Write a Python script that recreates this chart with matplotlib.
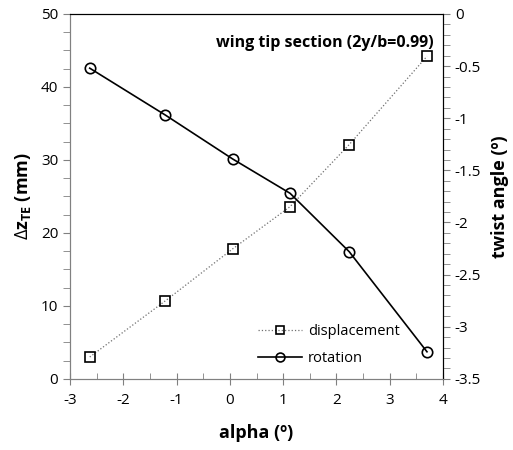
import numpy as np
import matplotlib
matplotlib.use('Agg')
import matplotlib.pyplot as plt
from matplotlib.ticker import MultipleLocator, FuncFormatter

plt.rcParams['font.family'] = ['Open Sans', 'DejaVu Sans']
plt.rcParams['axes.unicode_minus'] = False
plt.rcParams['mathtext.fontset'] = 'custom'
plt.rcParams['mathtext.rm'] = 'Open Sans'
plt.rcParams['mathtext.bf'] = 'Open Sans:bold'

# Data
alpha = [-2.63, -1.21, 0.05, 1.13, 2.24, 3.70]
displacement = [3.0, 10.7, 17.8, 23.6, 32.1, 44.2]
rotation = [-0.52, -0.97, -1.39, -1.72, -2.28, -3.24]

fig = plt.figure(figsize=(5.13, 4.5), dpi=100)
ax = fig.add_axes([0.1365, 0.158, 0.727, 0.811])
ax2 = ax.twinx()

l1, = ax.plot(alpha, displacement, linestyle=':', color='#707070', linewidth=0.9,
              marker='s', markersize=7.5, markerfacecolor='none',
              markeredgecolor='black', markeredgewidth=1.2, label='displacement')
l2, = ax2.plot(alpha, rotation, linestyle='-', color='black', linewidth=1.2,
               marker='o', markersize=7.5, markerfacecolor='none',
               markeredgecolor='black', markeredgewidth=1.2, label='rotation')

ax.set_xlim(-3, 4)
ax.set_ylim(0, 50)
ax2.set_ylim(-3.5, 0)

ax.xaxis.set_major_locator(MultipleLocator(1))
ax.xaxis.set_minor_locator(MultipleLocator(0.5))
ax.yaxis.set_major_locator(MultipleLocator(10))
ax.yaxis.set_minor_locator(MultipleLocator(2.5))
ax2.yaxis.set_major_locator(MultipleLocator(0.5))
ax2.yaxis.set_minor_locator(MultipleLocator(0.1))
ax2.yaxis.set_major_formatter(FuncFormatter(lambda v, p: '{:g}'.format(round(v, 2))))

ax.tick_params(axis='x', which='major', direction='inout', length=8, labelsize=11, pad=6, color='#808080')
ax.tick_params(axis='x', which='minor', direction='in', length=4, color='#808080')
ax.tick_params(axis='y', which='both', direction='out', length=5, labelsize=11, color='#808080')
ax2.tick_params(axis='y', which='both', direction='out', length=5, labelsize=11, color='#808080')

for s in ['left', 'bottom']:
    ax.spines[s].set_color('#808080')
    ax2.spines[s].set_color('#808080')
ax2.spines['top'].set_color('black')
ax2.spines['right'].set_color('black')
ax2.spines['top'].set_linewidth(0.8)

ax.set_xlabel('alpha (º)', fontsize=13, fontweight='bold', labelpad=12)
ax.set_ylabel(r'$\Delta\mathbf{z_{TE}}$ (mm)', fontsize=13, fontweight='bold', labelpad=6)
ax2.set_ylabel('twist angle (º)', fontsize=13, fontweight='bold', labelpad=7)

ax.text(0.975, 0.92, 'wing tip section (2y/b=0.99)', transform=ax.transAxes,
        ha='right', va='center', fontsize=11.5, fontweight='bold')

ax2.legend([l1, l2], ['displacement', 'rotation'], loc='lower left',
           bbox_to_anchor=(0.47, 0.0), frameon=False, fontsize=10.5,
           handlelength=3, handletextpad=0.4, labelspacing=0.8, markerscale=0.85)

fig.savefig('out.png', dpi=100)
